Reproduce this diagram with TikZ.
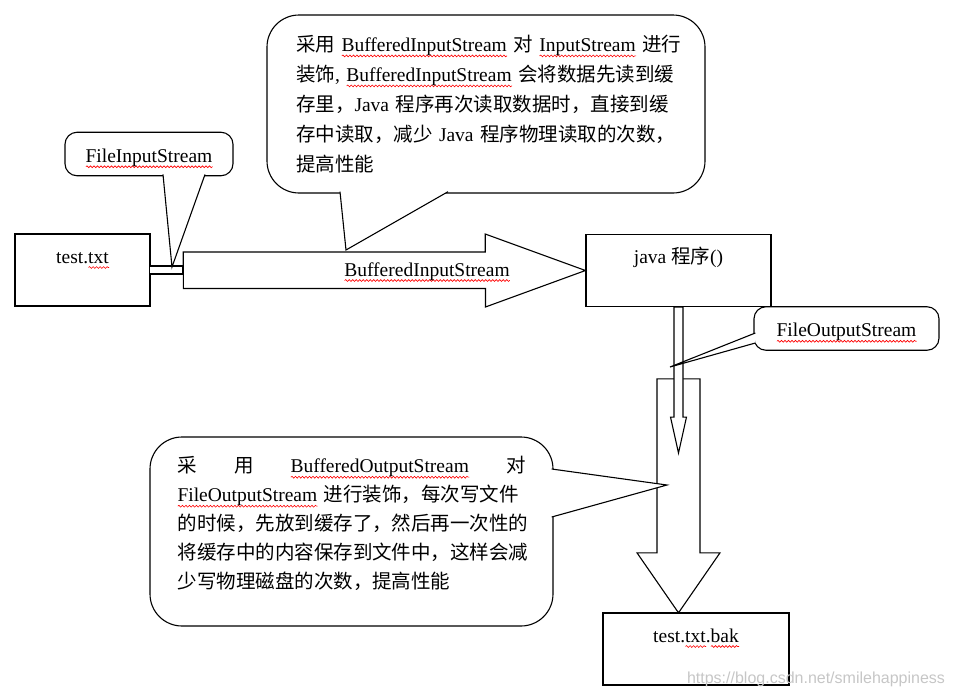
\documentclass[tikz,border=0pt]{standalone}
\usepackage{fontspec}
\setmainfont{Liberation Serif}
\newfontfamily\cjk{Noto Sans CJK SC}
\newfontfamily\wmfont{Liberation Sans}
\usetikzlibrary{decorations.pathmorphing}
\XeTeXlinebreaklocale "zh"
\XeTeXlinebreakskip=0pt plus 1pt

\newlength\spellwd
\newcommand\spellerr[1]{\settowidth\spellwd{#1}\rlap{\tikz[baseline=0pt]\draw[red, sharp corners, line width=0.6pt, decorate, decoration={snake, amplitude=0.9pt, segment length=3.5pt}] (0pt,-4.5pt) -- (\spellwd,-4.5pt);}#1}
\newcommand\fullline[1]{\makebox[\linewidth][s]{#1}}

\begin{document}
\begin{tikzpicture}[
	x=1pt, y=-1pt, line width=1.1pt,
	every node/.style={ font=\fontsize{19.5}{30}\selectfont },
	filebox/.style={ draw, rectangle, inner xsep=0pt, inner ysep=0pt, text height=29pt, text depth=43pt },
	tagbubble/.style={ draw, fill=white, rounded corners=12pt, inner xsep=0pt, inner ysep=0pt, text height=30pt, text depth=13.5pt },
	notebubble/.style={ draw, fill=white, rounded corners=32pt, inner sep=0pt, align=left },
	fatarrow/.style={ draw, fill=white },
	pointer/.style={ draw, fill=white }
]

\useasboundingbox (0,0) rectangle (954,697);

\node at (82.5,270) (src) [filebox, minimum width=135pt] {test.\spellerr{txt}};
\node at (678.5,270.5) (prog) [filebox, minimum width=185pt] {java {\cjk 程序}()};
\node at (696,649) (bak) [filebox, minimum width=186pt] {test.\spellerr{txt}.\spellerr{bak}};

\draw[fatarrow] ([xshift=-17.5pt]bak.north) -- ++(-41.5,-60) -- ++(20,0) -- ++(0,-174) -- ++(43,0) -- ++(0,174) -- ++(20,0) -- cycle;

\draw[fill=white] ([shift={(-1,-4)}]src.east) rectangle ++(33,8);
\draw[fatarrow] ([shift={(33,-18)}]src.east) -- ++(302,0) -- ++(0,-18) -- (prog.west) -- ++(-100,36.5) -- ++(0,-18.5) -- ++(-302,0) -- cycle;
\node at (427,272) (bislabel) {\spellerr{BufferedInputStream}};

\draw[fatarrow] ([xshift=-4.5pt]prog.south) -- ++(0,110) -- ++(-3.5,0) -- ++(8,36) -- ++(8,-36) -- ++(-3.5,0) -- ++(0,-110) -- cycle;

\node at (149,154) (fisnote) [tagbubble, minimum width=168pt] {\spellerr{FileInputStream}};
\coordinate (fistip) at (172,267);
\draw[pointer] ([shift={(14,-1.5)}]fisnote.south) -- (fistip) -- ([shift={(56,-1.5)}]fisnote.south);

\node at (486,104) (bisnote) [notebubble, minimum width=438pt, minimum height=178pt, text width=380pt] {%
\fullline{{\cjk 采用} \spellerr{BufferedInputStream} {\cjk 对} \spellerr{InputStream} {\cjk 进行}}\\
\fullline{{\cjk 装饰}, \spellerr{BufferedInputStream} {\cjk 会将数据先读到缓}}\\
\fullline{{\cjk 存里，}Java {\cjk 程序再次读取数据时，直接到缓}}\\
\fullline{{\cjk 存中读取，减少} Java {\cjk 程序物理读取的次数，}}\\
{\cjk 提高性能}};
\coordinate (bistip) at (346,250);
\draw[pointer] ([shift={(-146,-1.5)}]bisnote.south) -- (bistip) -- ([shift={(-38,-1.5)}]bisnote.south);

\node at (846.5,328.5) (fosnote) [tagbubble, minimum width=185pt] {\spellerr{FileOutputStream}};
\coordinate (fostip) at (670,367);
\draw[pointer] ([shift={(1.5,4.5)}]fosnote.west) -- (fostip) -- ([shift={(1.5,14.5)}]fosnote.west);

\node at (351.5,531.5) (bosnote) [notebubble, minimum width=403pt, minimum height=189pt, text width=348pt, font=\fontsize{19.5}{29}\selectfont] {%
\fullline{{\cjk 采}\hfill{\cjk 用}\hfill\spellerr{BufferedOutputStream}\hfill{\cjk 对}}\\
\fullline{\spellerr{FileOutputStream} {\cjk 进行装饰，每次写文件}}\\
\fullline{{\cjk 的时候，先放到缓存了，然后再一次性的}}\\
\fullline{{\cjk 将缓存中的内容保存到文件中，这样会减}}\\
{\cjk 少写物理磁盘的次数，提高性能}\rule[-18pt]{0pt}{1pt}};
\coordinate (bostip) at (667,485);
\draw[pointer] ([shift={(-1.5,-62.5)}]bosnote.east) -- (bostip) -- ([shift={(-1.5,-14.5)}]bosnote.east);

\node at (816,679) (wmark) [font=\wmfont\fontsize{16}{16}\selectfont, text=gray!45] {https://blog.csdn.net/smilehappiness};

\end{tikzpicture}
\end{document}
